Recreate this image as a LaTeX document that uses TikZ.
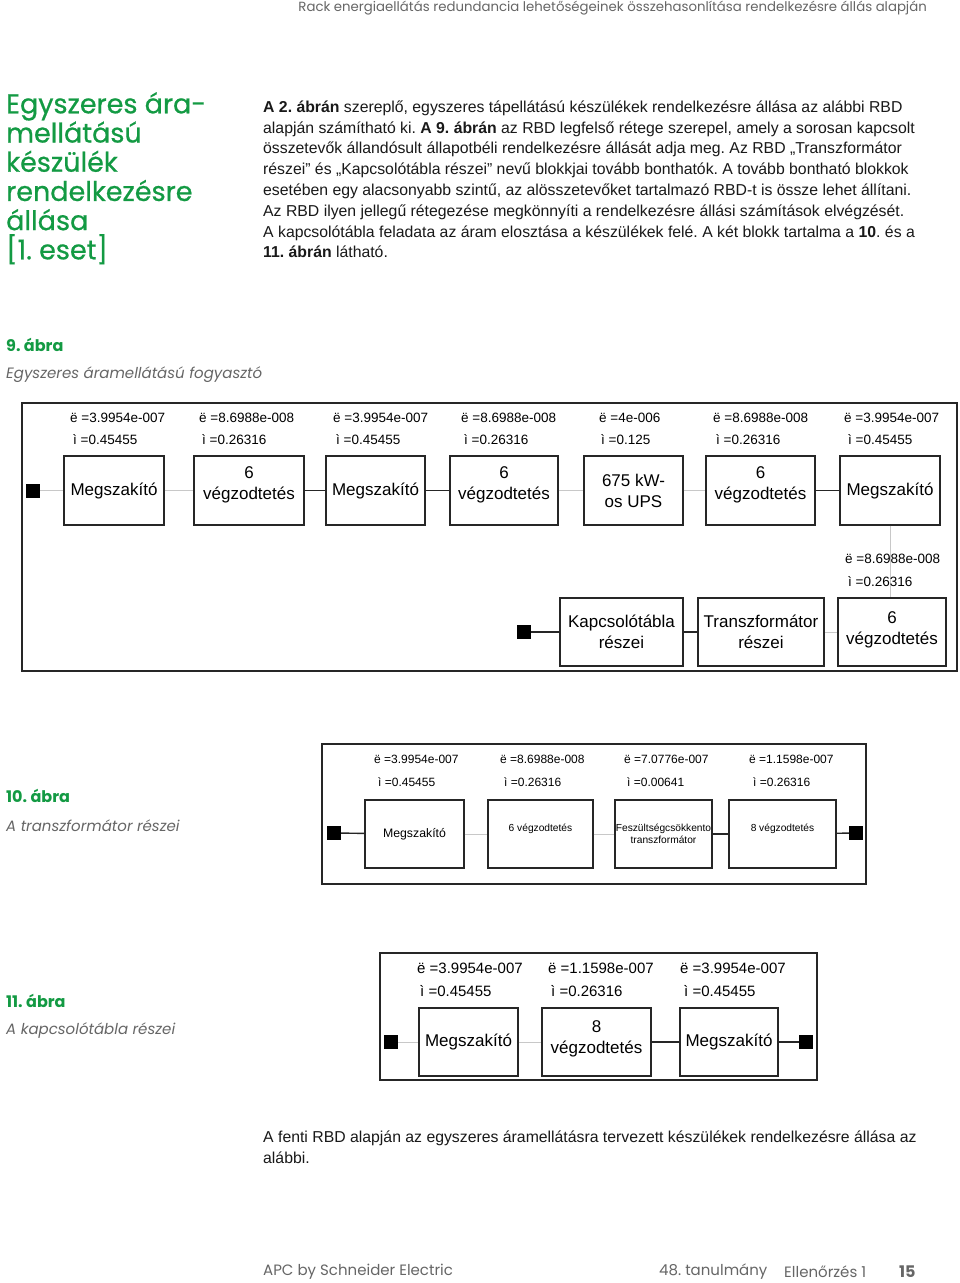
\documentclass[tikz,border=0pt]{standalone}
\usepackage{fontspec}
\setmainfont{Liberation Sans}
\newfontfamily\headfont{Poppins}
\newfontfamily\titlefont[FakeBold=0.6]{Poppins}
\usetikzlibrary{positioning}
\definecolor{SEgreen}{HTML}{139A43}
\definecolor{SEgrey}{HTML}{666666}
\definecolor{wiregrey}{HTML}{C8C8C8}
\frenchspacing

\begin{document}
\begin{tikzpicture}[x=1pt, y=-1pt,
        every node/.style={inner sep=0pt},
        blk/.style={draw=black!85, line width=1.1pt, fill=white, align=center, text=black},
        blkbold/.style={blk, line width=1.8pt},
        term/.style={fill=black, minimum size=14pt},
        frame/.style={draw=black!85, line width=1.4pt},
        wgrey/.style={draw=wiregrey, line width=1pt},
        wblack/.style={draw=black!85, line width=1.4pt},
        lamA/.style={anchor=west, font=\fontsize{13.5}{16}\selectfont},
        lamB/.style={anchor=west, font=\fontsize{12}{14}\selectfont},
        lamC/.style={anchor=west, font=\fontsize{15}{17}\selectfont},
        nineblk/.style={blk, minimum height=69pt, font=\fontsize{17}{21}\selectfont},
        tenblk/.style={blk, minimum height=68pt, font=\fontsize{10.2}{12}\selectfont},
        elevblk/.style={blk, minimum height=68pt, font=\fontsize{17}{21}\selectfont},
        figno/.style={anchor=west, font=\headfont\bfseries\fontsize{16}{18}\selectfont, text=SEgreen},
        figsub/.style={anchor=west, font=\headfont\itshape\fontsize{15}{17}\selectfont, text=SEgrey},
        pagefoot/.style={anchor=west, font=\headfont\fontsize{15}{17}\selectfont, text=SEgrey},
        prose/.style={anchor=north west, align=left, font=\fontsize{15.8}{20.8}\selectfont, text=black!90}
    ]
    \fill[white] (0,0) rectangle (960,1283);
    \useasboundingbox (0,0) rectangle (960,1283);

    % page head and section title
    \node[anchor=east, font=\headfont\fontsize{13.3}{15}\selectfont, text=SEgrey] (head) at (927,8)
        {Rack energiaellátás redundancia lehetőségeinek összehasonlítása rendelkezésre állás alapján};
    \node[anchor=north west, align=left, font=\titlefont\fontsize{27}{29.2}\selectfont, text=SEgreen] (title) at (6,92)
        {Egyszeres ára-\\mellátású\\készülék\\rendelkezésre\\állása\\{[}1. eset{]}};
    \node[prose] (intro) at (263,100.5)
        {\textbf{A 2. ábrán} szereplő, egyszeres tápellátású készülékek rendelkezésre állása az alábbi RBD\\
         alapján számítható ki. \textbf{A 9. ábrán} az RBD legfelső rétege szerepel, amely a sorosan kapcsolt\\
         összetevők állandósult állapotbéli rendelkezésre állását adja meg. Az RBD „Transzformátor\\
         részei” és „Kapcsolótábla részei” nevű blokkjai tovább bonthatók. A tovább bontható blokkok\\
         esetében egy alacsonyabb szintű, az alösszetevőket tartalmazó RBD-t is össze lehet állítani.\\
         Az RBD ilyen jellegű rétegezése megkönnyíti a rendelkezésre állási számítások elvégzését.\\
         A kapcsolótábla feladata az áram elosztása a készülékek felé. A két blokk tartalma a \textbf{10}. és a\\
         \textbf{11. ábrán} látható.};

    % 9. abra
    \node[figno] (cap9) at (6,345) {9. ábra};
    \node[figsub] (sub9) at (6,375) {Egyszeres áramellátású fogyasztó};
    \draw[frame] (22,403) rectangle (957,671);

    \node[term] (s9a) at (33,490.5) {};
    \node[nineblk, minimum width=100pt] (m9a) at (114,490.5) {Megszakító};
    \node[nineblk, minimum width=110pt, text depth=14pt] (v9a) at (249,490.5) {6\\végzodtetés};
    \node[nineblk, minimum width=99pt] (m9b) at (375.5,490.5) {Megszakító};
    \node[nineblk, minimum width=108pt, text depth=14pt] (v9b) at (504,490.5) {6\\végzodtetés};
    \node[nineblk, minimum width=99pt] (ups) at (633.5,490.5) {675 kW-\\os UPS};
    \node[nineblk, minimum width=109pt, text depth=14pt] (v9c) at (760.5,490.5) {6\\végzodtetés};
    \node[nineblk, minimum width=100pt] (m9c) at (890,490.5) {Megszakító};

    \node[term] (s9b) at (524,632) {};
    \node[nineblk, blkbold, minimum width=123pt, minimum height=68pt] (kt9) at (621.5,632) {Kapcsolótábla\\részei};
    \node[nineblk, blkbold, minimum width=126pt, minimum height=68pt] (tr9) at (761,632) {Transzformátor\\részei};
    \node[nineblk, minimum width=108pt, minimum height=68pt, text depth=8pt] (v9d) at (892,632) {6\\végzodtetés};

    \draw[wgrey] (s9a) -- (m9a);
    \draw[wgrey] (m9a) -- (v9a);
    \draw[wblack] (v9a) -- (m9b);
    \draw[wblack] (m9b) -- (v9b);
    \draw[wgrey] (v9b) -- (ups);
    \draw[wgrey] (ups) -- (v9c);
    \draw[wblack] (v9c) -- (m9c);
    \draw[wgrey] (m9c.south) -- (m9c.south |- v9d.north);
    \draw[wblack] (s9b) -- (kt9);
    \draw[wblack] (kt9) -- (tr9);
    \draw[wgrey] (tr9) -- (v9d);

    \node[lamA] (l9a) at (70,418) {ë =3.9954e-007};
    \node[lamA] (u9a) at (73,440) {ì =0.45455};
    \node[lamA] (l9b) at (199,418) {ë =8.6988e-008};
    \node[lamA] (u9b) at (202,440) {ì =0.26316};
    \node[lamA] (l9c) at (333,418) {ë =3.9954e-007};
    \node[lamA] (u9c) at (336,440) {ì =0.45455};
    \node[lamA] (l9d) at (461,418) {ë =8.6988e-008};
    \node[lamA] (u9d) at (464,440) {ì =0.26316};
    \node[lamA] (l9e) at (599,418) {ë =4e-006};
    \node[lamA] (u9e) at (601,440) {ì =0.125};
    \node[lamA] (l9f) at (713,418) {ë =8.6988e-008};
    \node[lamA] (u9f) at (716,440) {ì =0.26316};
    \node[lamA] (l9g) at (844,418) {ë =3.9954e-007};
    \node[lamA] (u9g) at (848,440) {ì =0.45455};
    \node[lamA] (l9h) at (845,559) {ë =8.6988e-008};
    \node[lamA] (u9h) at (848,582) {ì =0.26316};

    % 10. abra
    \node[figno] (cap10) at (6,796) {10. ábra};
    \node[figsub] (sub10) at (6,826) {A transzformátor részei};
    \draw[frame] (322,744) rectangle (866,884);

    \node[term] (s10a) at (334,833) {};
    \node[tenblk, minimum width=99pt, font=\fontsize{12.3}{14}\selectfont] (m10) at (414.5,834) {Megszakító};
    \node[tenblk, minimum width=105pt, text depth=12pt] (v10a) at (540.5,834) {6 végzodtetés};
    \node[tenblk, minimum width=97pt] (fct) at (663.5,834) {Feszültségcsökkento\\transzformátor};
    \node[tenblk, minimum width=107pt, text depth=12pt] (v10b) at (782.5,834) {8 végzodtetés};
    \node[term] (s10b) at (856,833) {};

    \draw[wblack] (s10a) -- (m10);
    \draw[wgrey] (m10) -- (v10a);
    \draw[wgrey] (v10a) -- (fct);
    \draw[wblack] (fct) -- (v10b);
    \draw[wblack] (v10b) -- (s10b);

    \node[lamB] (l10a) at (374,759) {ë =3.9954e-007};
    \node[lamB] (u10a) at (378,782) {ì =0.45455};
    \node[lamB] (l10b) at (500,759) {ë =8.6988e-008};
    \node[lamB] (u10b) at (504,782) {ì =0.26316};
    \node[lamB] (l10c) at (624,759) {ë =7.0776e-007};
    \node[lamB] (u10c) at (627,782) {ì =0.00641};
    \node[lamB] (l10d) at (749,759) {ë =1.1598e-007};
    \node[lamB] (u10d) at (753,782) {ì =0.26316};

    % 11. abra
    \node[figno] (cap11) at (6,1001) {11. ábra};
    \node[figsub] (sub11) at (6,1031) {A kapcsolótábla részei};
    \draw[frame] (380,953) rectangle (817,1080);

    \node[term] (s11a) at (391,1042) {};
    \node[elevblk, minimum width=99pt] (m11a) at (468.5,1042) {Megszakító};
    \node[elevblk, minimum width=109pt, text depth=10pt] (v11) at (596.5,1042) {8\\végzodtetés};
    \node[elevblk, minimum width=98pt] (m11b) at (729,1042) {Megszakító};
    \node[term] (s11b) at (806,1042) {};

    \draw[wgrey] (s11a) -- (m11a);
    \draw[wgrey] (m11a) -- (v11);
    \draw[wblack] (v11) -- (m11b);
    \draw[wblack] (m11b) -- (s11b);

    \node[lamC] (l11a) at (417,968) {ë =3.9954e-007};
    \node[lamC] (u11a) at (420,991) {ì =0.45455};
    \node[lamC] (l11b) at (548,968) {ë =1.1598e-007};
    \node[lamC] (u11b) at (551,991) {ì =0.26316};
    \node[lamC] (l11c) at (680,968) {ë =3.9954e-007};
    \node[lamC] (u11c) at (684,991) {ì =0.45455};

    % closing text and page foot
    \node[prose] (outro) at (263,1131)
        {A fenti RBD alapján az egyszeres áramellátásra tervezett készülékek rendelkezésre állása az\\
         alábbi.};
    \node[pagefoot] (brand) at (263,1272) {APC by Schneider Electric};
    \node[pagefoot] (study) at (659,1272) {48. tanulmány};
    \node[pagefoot] (check) at (784,1272) {Ellenőrzés 1};
    \node[pagefoot, font=\headfont\bfseries\fontsize{16}{18}\selectfont, text=black!60] (pageno) at (899,1272) {15};
\end{tikzpicture}
\end{document}
